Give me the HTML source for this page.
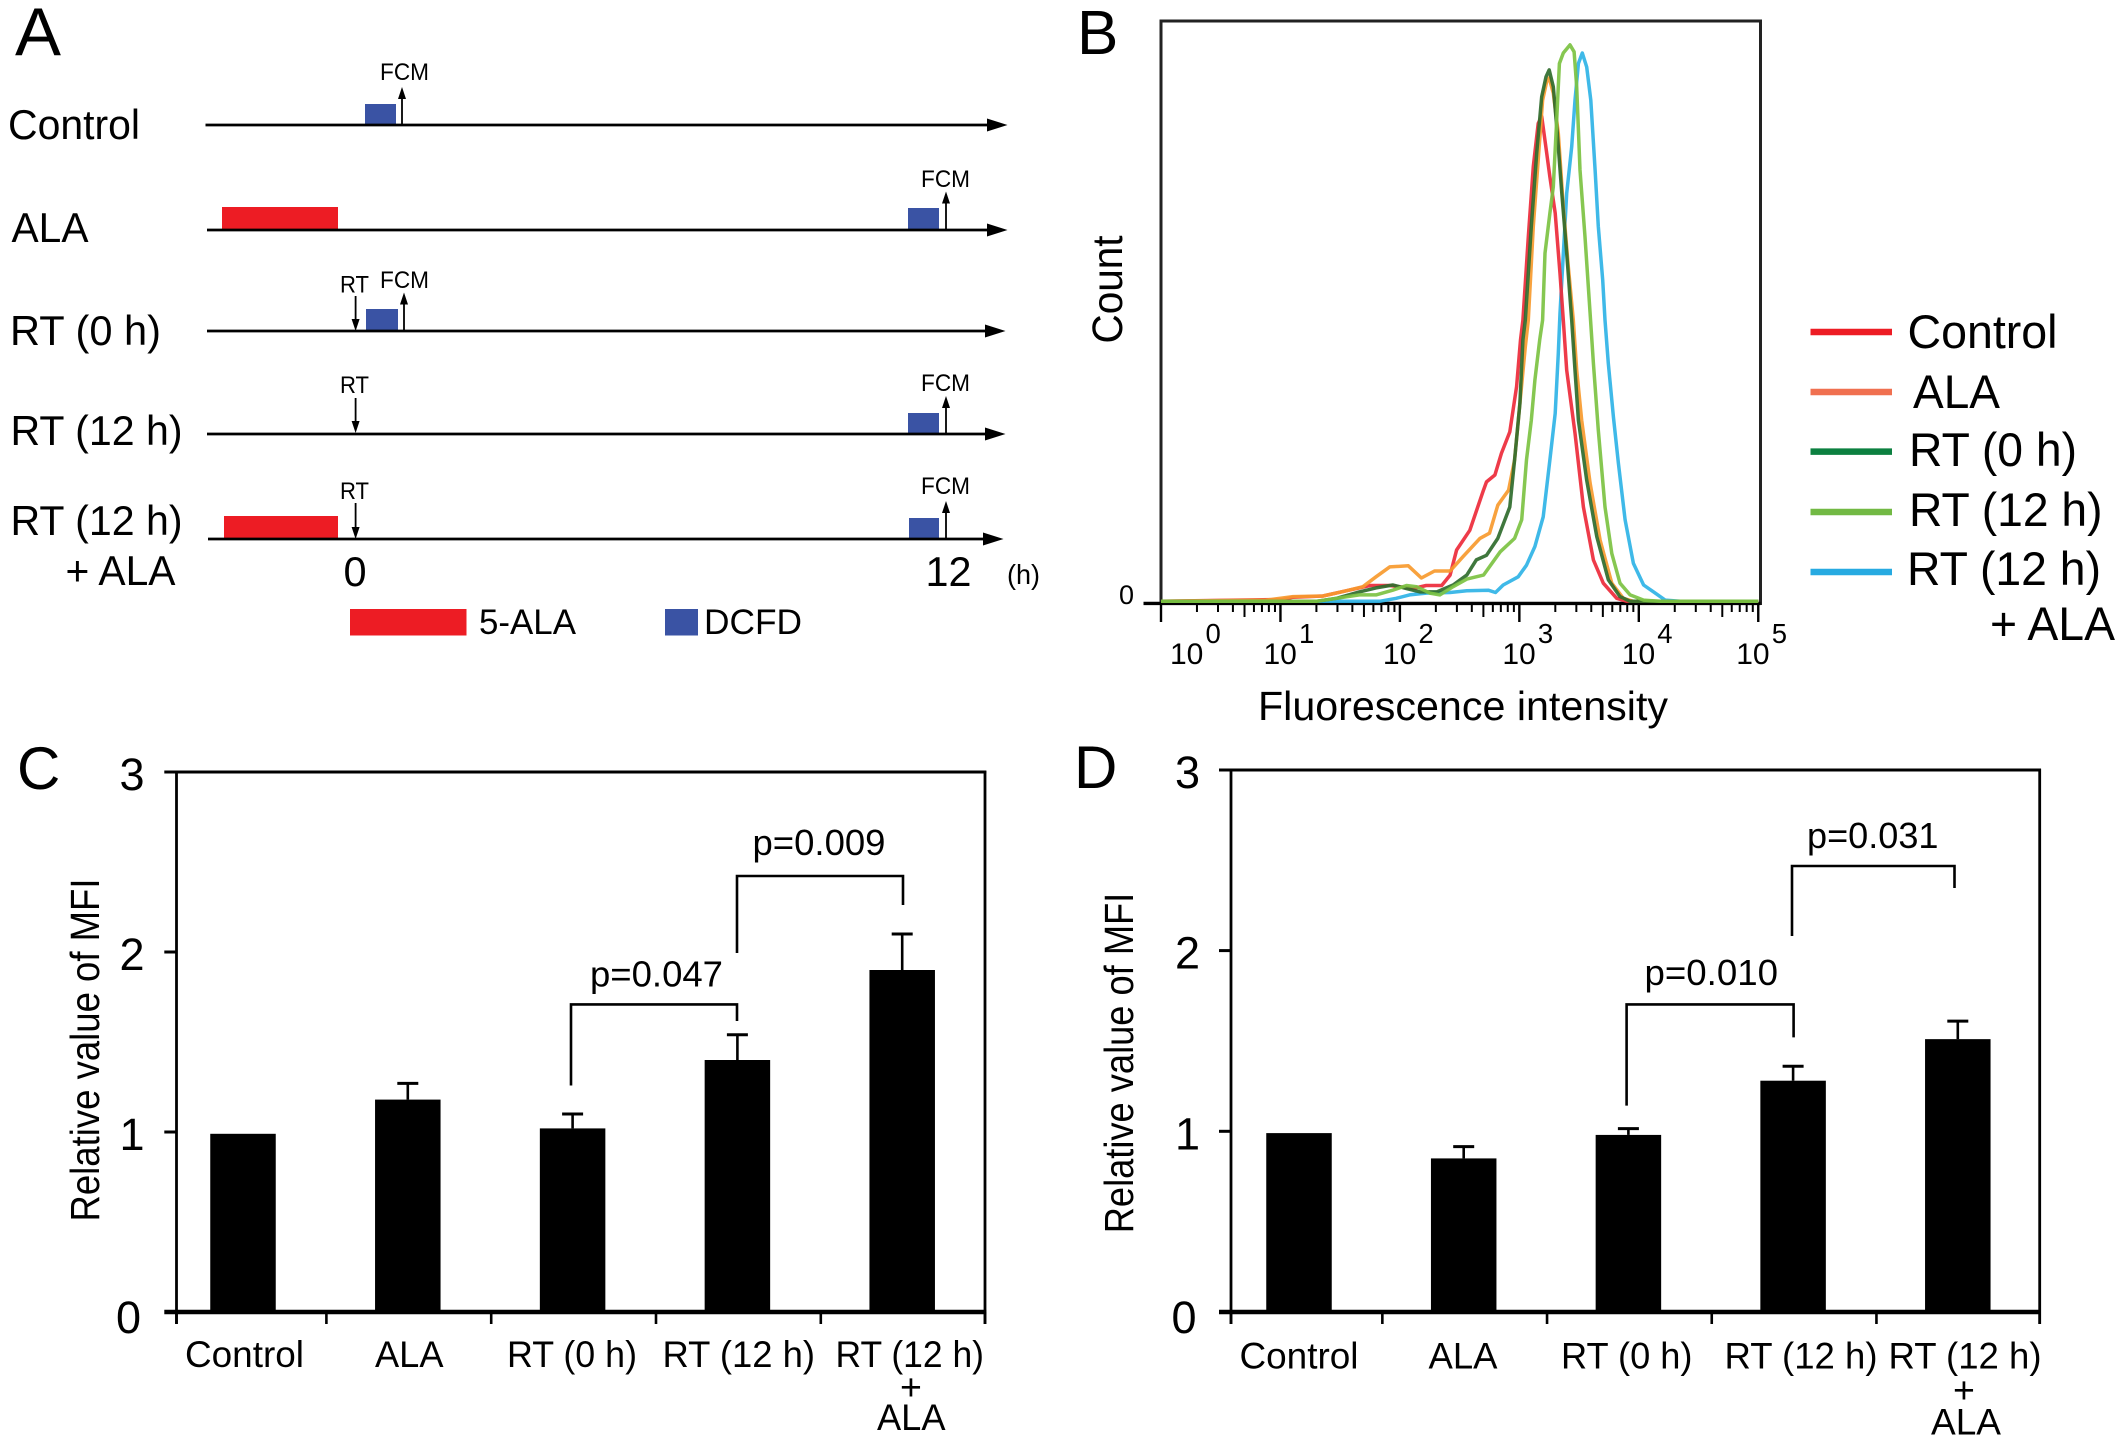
<!DOCTYPE html>
<html lang="en">
<head>
<meta charset="utf-8">
<title>Panels A-D: ALA and RT time course, fluorescence histogram, relative MFI</title>
<style>
html,body{margin:0;padding:0;background:#fff;}
svg{display:block;}
text{font-family:"Liberation Sans",Arial,sans-serif;fill:#000;}
</style>
</head>
<body>
<svg id="figure" xmlns="http://www.w3.org/2000/svg" width="2120" height="1439" viewBox="0 0 2120 1439">
<rect x="0" y="0" width="2120" height="1439" fill="#fff"/>

<!-- PANEL A -->
<g id="panelA">
<text x="15" y="55" font-size="68" textLength="46" lengthAdjust="spacingAndGlyphs">A</text>

<g>
<text x="8" y="139" font-size="41.5" textLength="132" lengthAdjust="spacingAndGlyphs">Control</text>
<rect x="365" y="104" width="31" height="21" fill="#3a53a4"/>
<line x1="205.5" y1="125" x2="990" y2="125" stroke="#000" stroke-width="2.8"/>
<polygon points="1007.5,125 987,118.5 987,131.5" fill="#000"/>
<line x1="402" y1="125" x2="402" y2="95" stroke="#000" stroke-width="1.8"/>
<polygon points="402,87 398,99 406,99" fill="#000"/>
<text x="380" y="80" font-size="24.5" textLength="49" lengthAdjust="spacingAndGlyphs">FCM</text>
</g>

<g>
<text x="11.5" y="242" font-size="41.5" textLength="77" lengthAdjust="spacingAndGlyphs">ALA</text>
<rect x="222" y="207" width="116" height="23" fill="#ed1c24"/>
<rect x="908" y="208" width="31" height="22" fill="#3a53a4"/>
<line x1="207" y1="230" x2="990" y2="230" stroke="#000" stroke-width="2.8"/>
<polygon points="1007.5,230 987,223.5 987,236.5" fill="#000"/>
<line x1="946" y1="230" x2="946" y2="200" stroke="#000" stroke-width="1.8"/>
<polygon points="946,191.5 942,203.5 950,203.5" fill="#000"/>
<text x="921" y="187" font-size="24.5" textLength="49" lengthAdjust="spacingAndGlyphs">FCM</text>
</g>

<g>
<text x="10" y="345" font-size="41.5" textLength="151" lengthAdjust="spacingAndGlyphs">RT (0 h)</text>
<rect x="366" y="309" width="32" height="22" fill="#3a53a4"/>
<line x1="207" y1="331" x2="988" y2="331" stroke="#000" stroke-width="2.8"/>
<polygon points="1005.5,331 985,324.5 985,337.5" fill="#000"/>
<line x1="355.6" y1="296" x2="355.6" y2="322" stroke="#000" stroke-width="1.8"/>
<polygon points="355.6,331 351.6,319 359.6,319" fill="#000"/>
<text x="340" y="292.5" font-size="24.5" textLength="29" lengthAdjust="spacingAndGlyphs">RT</text>
<line x1="404" y1="331" x2="404" y2="300" stroke="#000" stroke-width="1.8"/>
<polygon points="404,292.5 400,304.5 408,304.5" fill="#000"/>
<text x="380" y="288" font-size="24.5" textLength="49" lengthAdjust="spacingAndGlyphs">FCM</text>
</g>

<g>
<text x="10.5" y="445" font-size="41.5" textLength="172" lengthAdjust="spacingAndGlyphs">RT (12 h)</text>
<rect x="908" y="413" width="31" height="21" fill="#3a53a4"/>
<line x1="207" y1="434" x2="988" y2="434" stroke="#000" stroke-width="2.8"/>
<polygon points="1005.5,434 985,427.5 985,440.5" fill="#000"/>
<line x1="355.6" y1="398" x2="355.6" y2="424" stroke="#000" stroke-width="1.8"/>
<polygon points="355.6,433 351.6,421 359.6,421" fill="#000"/>
<text x="340" y="393" font-size="24.5" textLength="29" lengthAdjust="spacingAndGlyphs">RT</text>
<line x1="946" y1="434" x2="946" y2="404" stroke="#000" stroke-width="1.8"/>
<polygon points="946,396 942,408 950,408" fill="#000"/>
<text x="921" y="391" font-size="24.5" textLength="49" lengthAdjust="spacingAndGlyphs">FCM</text>
</g>

<g>
<text x="10.5" y="535" font-size="41.5" textLength="172" lengthAdjust="spacingAndGlyphs">RT (12 h)</text>
<text x="65.5" y="585" font-size="41.5" textLength="110" lengthAdjust="spacingAndGlyphs">+ ALA</text>
<rect x="224" y="516" width="114" height="23" fill="#ed1c24"/>
<rect x="909" y="518" width="30" height="21" fill="#3a53a4"/>
<line x1="208" y1="539" x2="986" y2="539" stroke="#000" stroke-width="2.8"/>
<polygon points="1003.5,539 983,532.5 983,545.5" fill="#000"/>
<line x1="355.6" y1="503" x2="355.6" y2="530" stroke="#000" stroke-width="1.8"/>
<polygon points="355.6,539 351.6,527 359.6,527" fill="#000"/>
<text x="340" y="499" font-size="24.5" textLength="29" lengthAdjust="spacingAndGlyphs">RT</text>
<line x1="946" y1="539" x2="946" y2="509" stroke="#000" stroke-width="1.8"/>
<polygon points="946,501 942,513 950,513" fill="#000"/>
<text x="921" y="494" font-size="24.5" textLength="49" lengthAdjust="spacingAndGlyphs">FCM</text>
</g>

<text x="343.5" y="586" font-size="41.5">0</text>
<text x="925.5" y="586" font-size="41.5" textLength="46" lengthAdjust="spacingAndGlyphs">12</text>
<text x="1007" y="584" font-size="28" textLength="33" lengthAdjust="spacingAndGlyphs">(h)</text>
<rect x="350" y="609" width="116.5" height="26.5" fill="#ed1c24"/>
<text x="479" y="634" font-size="35" textLength="97" lengthAdjust="spacingAndGlyphs">5-ALA</text>
<rect x="665" y="609" width="33" height="26.5" fill="#3a53a4"/>
<text x="704" y="634" font-size="35" textLength="98" lengthAdjust="spacingAndGlyphs">DCFD</text>
</g>

<!-- PANEL B -->
<g id="panelB">
<text x="1077" y="54" font-size="62">B</text>
<rect x="1161" y="21" width="599.5" height="582.5" fill="none" stroke="#222" stroke-width="3"/>
<line x1="1143.5" y1="603.4" x2="1760.5" y2="603.4" stroke="#000" stroke-width="3.4"/>
<text x="1119" y="604" font-size="27">0</text>
<text transform="translate(1122 289.5) rotate(-90)" text-anchor="middle" font-size="43" textLength="108" lengthAdjust="spacingAndGlyphs">Count</text>
<text x="1258" y="720" font-size="41" textLength="410" lengthAdjust="spacingAndGlyphs">Fluorescence intensity</text>
<g id="bTicks"></g>
<g id="bCurves"></g>
<g>
<g>
<line x1="1810.5" y1="332" x2="1892" y2="332" stroke="#ed1c24" stroke-width="6.5"/>
<text x="1907.5" y="348" font-size="47" textLength="150" lengthAdjust="spacingAndGlyphs">Control</text>
</g>
<g>
<line x1="1810.5" y1="392" x2="1892" y2="392" stroke="#f07050" stroke-width="6.5"/>
<text x="1913" y="408" font-size="47" textLength="87" lengthAdjust="spacingAndGlyphs">ALA</text>
</g>
<g>
<line x1="1810.5" y1="451.6" x2="1892" y2="451.6" stroke="#0c8040" stroke-width="6.5"/>
<text x="1909" y="466" font-size="47" textLength="168" lengthAdjust="spacingAndGlyphs">RT (0 h)</text>
</g>
<g>
<line x1="1810.5" y1="512" x2="1892" y2="512" stroke="#72b944" stroke-width="6.5"/>
<text x="1909" y="526" font-size="47" textLength="193.5" lengthAdjust="spacingAndGlyphs">RT (12 h)</text>
</g>
<g>
<line x1="1810.5" y1="572" x2="1892" y2="572" stroke="#27aae1" stroke-width="6.5"/>
<text x="1907" y="585" font-size="47" textLength="194" lengthAdjust="spacingAndGlyphs">RT (12 h)</text>
<text x="1990" y="640" font-size="47" textLength="125" lengthAdjust="spacingAndGlyphs">+ ALA</text>
</g>
</g>
</g>

<!-- PANEL C -->
<g id="panelC">
<text x="17" y="789" font-size="60">C</text>
<text transform="translate(99 1050) rotate(-90)" text-anchor="middle" font-size="41" textLength="343" lengthAdjust="spacingAndGlyphs">Relative value of MFI</text>
<text x="185" y="1367" font-size="37.5" textLength="119" lengthAdjust="spacingAndGlyphs">Control</text>
<text x="375" y="1367" font-size="37.5" textLength="68.5" lengthAdjust="spacingAndGlyphs">ALA</text>
<text x="507" y="1367" font-size="37.5" textLength="130" lengthAdjust="spacingAndGlyphs">RT (0 h)</text>
<text x="662.5" y="1367" font-size="37.5" textLength="152.5" lengthAdjust="spacingAndGlyphs">RT (12 h)</text>
<text x="835.5" y="1367" font-size="37.5" textLength="148.5" lengthAdjust="spacingAndGlyphs">RT (12 h)</text>
<text x="911" y="1400" font-size="37.5" text-anchor="middle">+</text>
<text x="877" y="1430" font-size="37.5" textLength="68.5" lengthAdjust="spacingAndGlyphs">ALA</text>
<g id="cChart"></g>
<polyline points="571,1085.5 571,1004.4 737,1004.4 737,1021" fill="none" stroke="#000" stroke-width="2.6"/>
<text x="590" y="986.5" font-size="36.5" textLength="133" lengthAdjust="spacingAndGlyphs">p=0.047</text>
<polyline points="737,953 737,876 903,876 903,905" fill="none" stroke="#000" stroke-width="2.6"/>
<text x="752.5" y="855" font-size="36.5" textLength="133" lengthAdjust="spacingAndGlyphs">p=0.009</text>
</g>

<!-- PANEL D -->
<g id="panelD">
<text x="1074" y="788" font-size="60">D</text>
<text transform="translate(1133 1063) rotate(-90)" text-anchor="middle" font-size="41" textLength="340.5" lengthAdjust="spacingAndGlyphs">Relative value of MFI</text>
<text x="1239.5" y="1368.5" font-size="37.5" textLength="119" lengthAdjust="spacingAndGlyphs">Control</text>
<text x="1428.5" y="1368.5" font-size="37.5" textLength="69" lengthAdjust="spacingAndGlyphs">ALA</text>
<text x="1561" y="1368.5" font-size="37.5" textLength="131.5" lengthAdjust="spacingAndGlyphs">RT (0 h)</text>
<text x="1724.5" y="1368.5" font-size="37.5" textLength="153" lengthAdjust="spacingAndGlyphs">RT (12 h)</text>
<text x="1888.5" y="1368.5" font-size="37.5" textLength="153" lengthAdjust="spacingAndGlyphs">RT (12 h)</text>
<text x="1964" y="1403" font-size="37.5" text-anchor="middle">+</text>
<text x="1931" y="1434.5" font-size="37.5" textLength="70" lengthAdjust="spacingAndGlyphs">ALA</text>
<g id="dChart"></g>
<polyline points="1626.6,1105.6 1626.6,1004.4 1793.6,1004.4 1793.6,1037.4" fill="none" stroke="#000" stroke-width="2.6"/>
<text x="1644.5" y="985" font-size="36.5" textLength="133.5" lengthAdjust="spacingAndGlyphs">p=0.010</text>
<polyline points="1792,936 1792,866 1954.5,866 1954.5,888" fill="none" stroke="#000" stroke-width="2.6"/>
<text x="1807" y="848" font-size="36.5" textLength="131.5" lengthAdjust="spacingAndGlyphs">p=0.031</text>
</g>
</svg>

<script>
/* Panel B data: log10 fluorescence intensity and normalised count (frame top = 100) */
const controlLogX = [0,1.02,1.105,1.355,1.55,1.75,1.915,2.11,2.22,2.35,2.42,2.475,2.585,2.70,2.725,2.795,2.85,2.92,2.977,3.01,3.03,3.075,3.117,3.158,3.187,3.229,3.256,3.30,3.34,3.368,3.396,3.466,3.536,3.62,3.703,3.815,3.9,5];
const controlCount = [0.3,0.6,1,1.2,2.1,3,3,2.5,3,3,4.8,9.1,12.5,19.4,20.8,22,25.7,29.4,37.2,45.2,48.6,62.9,75,82.4,83.6,77.3,73.2,67,56.6,48.6,40,29.2,16.5,7.4,3.4,0.8,0.3,0.3];
const alaLogX = [0,0.88,1.105,1.355,1.55,1.69,1.80,1.915,2.07,2.18,2.29,2.42,2.53,2.67,2.75,2.82,2.91,2.96,3.005,3.05,3.075,3.117,3.158,3.195,3.229,3.25,3.284,3.326,3.368,3.41,3.452,3.48,3.522,3.592,3.676,3.774,3.87,3.955,5];
const alaCount = [0.3,0.5,1.1,1.2,2.1,2.8,4.5,6.2,6.4,4.3,5.5,5.5,8,11.1,12,16.8,19.4,24.6,34.3,44,48.6,64.7,76.1,86.4,89.6,90.2,87.6,80.7,68.1,57.8,48.6,40,31.4,20.6,10.8,3.4,0.8,0.3,0.3];
const rt0LogX = [0,1.30,1.47,1.66,1.80,1.94,2.055,2.17,2.31,2.445,2.56,2.64,2.725,2.82,2.92,2.96,3.005,3.03,3.05,3.10,3.145,3.187,3.223,3.25,3.284,3.318,3.355,3.396,3.438,3.466,3.494,3.564,3.648,3.745,3.843,3.927,5];
const rt0Count = [0.3,0.3,0.8,1.9,2.6,3.1,2.5,1.9,1.9,3.1,4.8,7.4,8.2,11.1,16.5,24.6,34.3,45.2,48.6,64.7,77.3,87,90.4,91.6,88.7,80.7,70.4,60.1,48.6,40,31.4,21.1,11.4,4,1.1,0.3,0.3];
const rt12LogX = [0,1.30,1.47,1.66,1.80,1.94,2.055,2.14,2.25,2.335,2.445,2.56,2.70,2.84,2.96,3.02,3.06,3.10,3.13,3.17,3.195,3.215,3.256,3.284,3.313,3.335,3.368,3.424,3.458,3.48,3.508,3.55,3.592,3.62,3.661,3.717,3.774,3.843,3.927,4.04,4.18,5];
const rt12Count = [0.3,0.3,0.8,1.4,1.4,2.2,3,2.8,1.7,1.4,2.8,4.1,4.8,8.8,11.1,14.3,24.6,31.4,38.3,45.2,48.6,60.1,67,71.5,83,92.7,94.5,95.9,94.7,88.7,74.4,62.9,49.8,41.2,29.7,16.5,8.5,3.4,1.4,0.5,0.3,0.3];
const rt12AlaLogX = [0,1.83,1.97,2.08,2.22,2.42,2.56,2.74,2.80,2.865,2.99,3.06,3.13,3.20,3.256,3.30,3.326,3.34,3.396,3.438,3.466,3.494,3.527,3.564,3.598,3.634,3.661,3.698,3.717,3.745,3.787,3.829,3.885,3.955,4.04,4.137,4.22,4.346,5];
const rt12AlaCount = [0.3,0.3,0.8,1.4,1.7,1.8,2.1,2.2,1.8,3.1,4.5,6.5,9.7,14.8,24.6,32.6,42.9,49.8,70.4,78.4,86.4,92.7,94.5,92.1,86.4,74.4,64.7,55.5,48.6,41.2,32,24,14.3,6.8,3.1,1.7,0.5,0.3,0.3];
const decadeTicks = [0,1,2,3,4,5];
const minorMultipliers = [2,3,4,5,6,7,8,9];

/* Panel C data */
const categories = ["Control","ALA","RT (0 h)","RT (12 h)","RT (12 h) + ALA"];
const yTickValues = [0,1,2,3];
const mfiPanelC = [0.99,1.18,1.02,1.40,1.90];
const errPanelC = [0,0.09,0.08,0.14,0.20];

/* Panel D data */
const mfiPanelD = [0.99,0.85,0.98,1.28,1.51];
const errPanelD = [0,0.065,0.035,0.08,0.10];

const NS = "http://www.w3.org/2000/svg";
function mk(tag, parent, attrs) {
  const el = document.createElementNS(NS, tag);
  for (const k in attrs) el.setAttribute(k, attrs[k]);
  parent.appendChild(el);
  return el;
}

/* Panel B axis functions */
const xLog = d => 1161 + d * 119.45;
const yCount = c => 603 - c * 5.82;

function drawBTicks() {
  const g = document.getElementById("bTicks");
  decadeTicks.forEach(d => {
    const major = mk("line", g, {x1:xLog(d), x2:xLog(d), y1:603, y2:622, stroke:"#000", "stroke-width":2.4});
    
    
    const shift = d === 0 ? 9 : (d === 5 ? -22 : -17);
    const base = mk("text", g, {x:xLog(d) + shift, y:664, "font-size":30});
    
    
    base.textContent = "10";
    const sup = mk("text", g, {x:xLog(d) + shift + 35.5, y:643, "font-size":27.5});
    
    
    sup.textContent = String(d);
    if (d < 5) {
      minorMultipliers.forEach(m => {
        const px = xLog(d + Math.log10(m));
        const minor = mk("line", g, {x1:px, x2:px, y1:603, y2:m === 5 ? 617 : 612, stroke:"#000", "stroke-width":2});
        
        
      });
    }
  });
}

function drawCurve(logX, counts, color, name) {
  const g = document.getElementById("bCurves");
  const pts = logX.map((d, i) => xLog(d).toFixed(1) + "," + yCount(counts[i]).toFixed(1)).join(" ");
  const line = mk("polyline", g, {points:pts, fill:"none", stroke:color, "stroke-width":3.5, "stroke-linejoin":"round", opacity:0.92});
  
  
}

function drawBars(hostId, cfg, values, errors) {
  const g = document.getElementById(hostId);
  const yScale = v => cfg.y0 - v * cfg.unit;
  const xCenter = i => cfg.firstCenter + i * cfg.step;

  values.forEach((v, i) => {
    const cx = xCenter(i);
    const top = yScale(v);
    if (errors[i] > 0) {
      const upper = yScale(v + errors[i]);
      const stem = mk("line", g, {x1:cx, x2:cx, y1:top, y2:upper, stroke:"#000", "stroke-width":2.6});
      
      
      const cap = mk("line", g, {x1:cx - 10.5, x2:cx + 10.5, y1:upper, y2:upper, stroke:"#000", "stroke-width":3});
      
      
    }
    const bar = mk("rect", g, {x:cx - cfg.barWidth / 2, y:top, width:cfg.barWidth, height:cfg.y0 - top, fill:"#000"});
    
    
  });

  const left = mk("line", g, {x1:cfg.left, x2:cfg.left, y1:cfg.top - 1.2, y2:cfg.y0 + 12, stroke:"#000", "stroke-width":2.8});
  
  
  const right = mk("line", g, {x1:cfg.right, x2:cfg.right, y1:cfg.top - 1.2, y2:cfg.y0 + 12, stroke:"#000", "stroke-width":2.8});
  
  
  const topLine = mk("line", g, {x1:cfg.tickStart, x2:cfg.right + 1.3, y1:cfg.top, y2:cfg.top, stroke:"#000", "stroke-width":3});
  
  
  const baseLine = mk("line", g, {x1:cfg.tickStart, x2:cfg.right + 1.3, y1:cfg.y0, y2:cfg.y0, stroke:"#000", "stroke-width":4.6});
  
  

  yTickValues.forEach(t => {
    const ty = yScale(t);
    if (t !== 0 && t !== 3) {
      const tick = mk("line", g, {x1:cfg.tickStart, x2:cfg.left, y1:ty, y2:ty, stroke:"#000", "stroke-width":3});
      
      
    }
    const label = mk("text", g, {x:cfg.labelRight - (t === 0 ? 3.5 : 0), y:ty + (t === 0 ? 21 : 18), "font-size":45, "text-anchor":"end"});
    
    
    label.textContent = String(t);
  });

  for (let i = 0; i <= categories.length; i++) {
    const tx = i === 0 ? cfg.left : (i === categories.length ? cfg.right : xCenter(i - 1) + cfg.step / 2 + 1);
    const tick = mk("line", g, {x1:tx, x2:tx, y1:cfg.y0, y2:cfg.y0 + 12, stroke:"#000", "stroke-width":2.6});
    
    
  }
}

drawBTicks();
drawCurve(rt12AlaLogX, rt12AlaCount, "#2fb3e6", "curve-rt-12h-ala");
drawCurve(controlLogX, controlCount, "#ed2a3a", "curve-control");
drawCurve(alaLogX, alaCount, "#f79a2e", "curve-ala");
drawCurve(rt0LogX, rt0Count, "#2f6b2c", "curve-rt-0h");
drawCurve(rt12LogX, rt12Count, "#7cc242", "curve-rt-12h");

drawBars("cChart", {y0:1312, unit:180, top:772, left:176.5, right:985, tickStart:164.3, firstCenter:243, step:164.8, barWidth:65.5, labelRight:144.5}, mfiPanelC, errPanelC);
drawBars("dChart", {y0:1312, unit:180.7, top:770, left:1231, right:2039.7, tickStart:1219, firstCenter:1299, step:164.7, barWidth:65.5, labelRight:1200}, mfiPanelD, errPanelD);
</script>
</body>
</html>
